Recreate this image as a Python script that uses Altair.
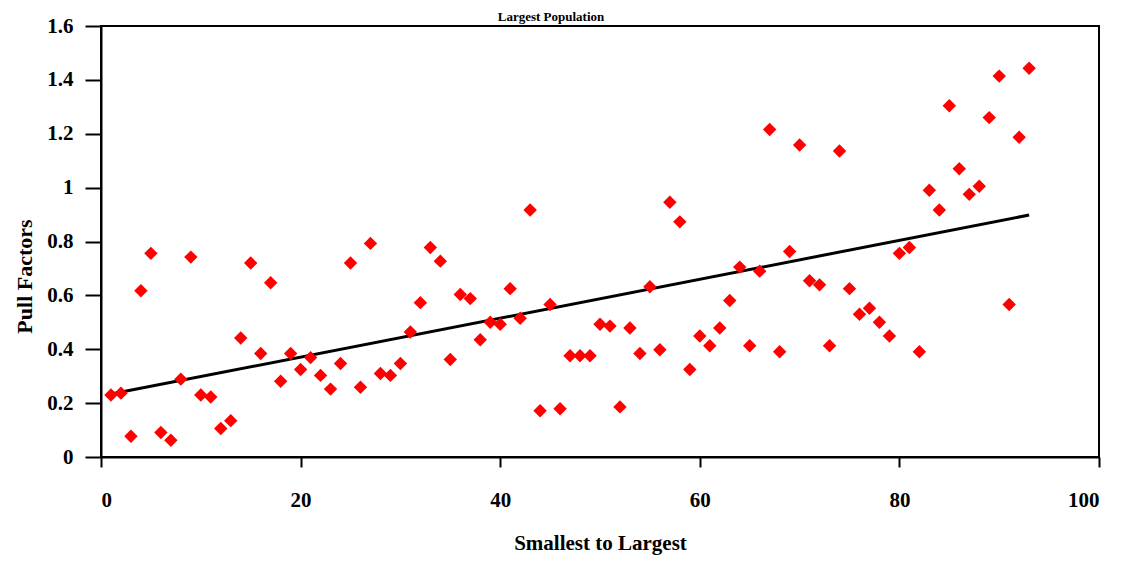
import altair as alt
import pandas as pd

rank = list(range(1, 94))
pull = [0.23, 0.237, 0.077, 0.617, 0.756, 0.091, 0.062, 0.289, 0.742, 0.23,
        0.223, 0.106, 0.135, 0.442, 0.72, 0.384, 0.647, 0.281, 0.384, 0.325,
        0.369, 0.303, 0.252, 0.347, 0.72, 0.259, 0.793, 0.31, 0.303, 0.347,
        0.464, 0.573, 0.778, 0.727, 0.362, 0.603, 0.588, 0.435, 0.5, 0.493,
        0.625, 0.515, 0.917, 0.172, 0.566, 0.179, 0.376, 0.376, 0.376, 0.493,
        0.486, 0.186, 0.479, 0.384, 0.632, 0.398, 0.946, 0.873, 0.325, 0.449,
        0.413, 0.479, 0.581, 0.705, 0.413, 0.69, 1.216, 0.391, 0.763, 1.158,
        0.654, 0.639, 0.413, 1.136, 0.625, 0.530, 0.552, 0.5, 0.449, 0.756,
        0.778, 0.391, 0.99, 0.917, 1.304, 1.07, 0.975, 1.005, 1.26, 1.414,
        0.566, 1.187, 1.443]

y_ticks = [0, 0.2, 0.4, 0.6, 0.8, 1.0, 1.2, 1.4, 1.6]
x_ticks = [0, 20, 40, 60, 80, 100]

df = pd.DataFrame({"rank": rank, "pull": pull})

FONT = "Liberation Serif"

x_enc = alt.X("rank:Q", scale=alt.Scale(domain=[0, 100], nice=False),
              axis=alt.Axis(values=x_ticks, title="Smallest to Largest",
                            grid=False, tickSize=10, labelPadding=22,
                            titlePadding=22, titleFontSize=21))
y_enc = alt.Y("pull:Q", scale=alt.Scale(domain=[0, 1.6], nice=False),
              axis=alt.Axis(values=y_ticks, format="~g", title="Pull Factors",
                            grid=False, tickSize=16, labelPadding=12,
                            titlePadding=10, titleY=250))

points = alt.Chart(df).mark_point(shape="diamond", filled=True, size=180,
                                  color="#FF0000", opacity=1).encode(x=x_enc, y=y_enc)

trend = alt.Chart(df).transform_regression(
    "rank", "pull", extent=[1, 93]
).mark_line(color="black", strokeWidth=3).encode(x="rank:Q", y="pull:Q")

chart = (trend + points).properties(
    width=998, height=431,
    autosize=alt.AutoSizeParams(type="none"),
    padding={"left": 93, "top": 18, "right": 15, "bottom": 102},
    title=alt.TitleParams("Largest Population", font=FONT, fontSize=13,
                          fontWeight="bold", offset=-9, dx=-49, color="black"),
).configure_view(
    stroke="black", strokeWidth=2
).configure_axis(
    domainColor="black", domainWidth=2, tickColor="black", tickWidth=2,
    labelFont=FONT, labelFontSize=21, labelFontWeight="bold", labelColor="black",
    titleFont=FONT, titleFontSize=22, titleFontWeight="bold", titleColor="black",
)

chart.save("out.html", embed_options={"renderer": "svg", "actions": False})
